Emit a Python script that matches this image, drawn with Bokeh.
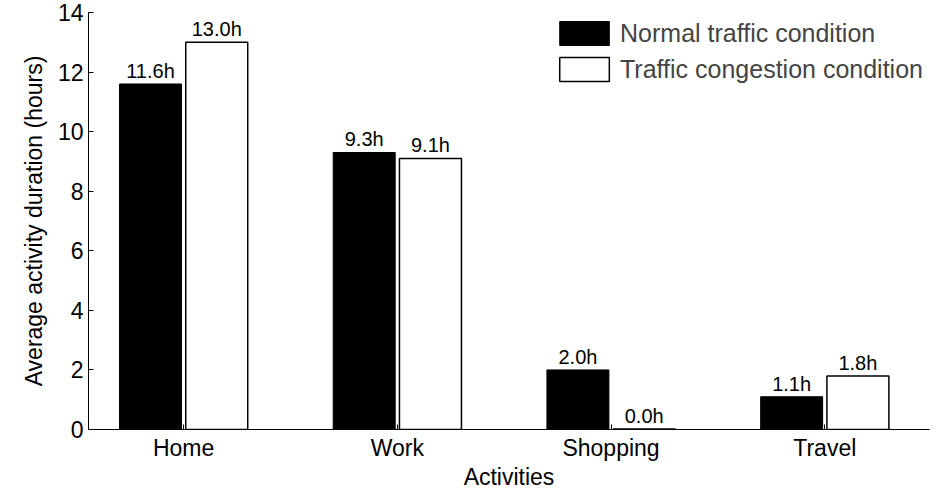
from bokeh.plotting import figure
from bokeh.models import ColumnDataSource, Legend, LegendItem, FixedTicker
from bokeh.core.properties import value
from bokeh.embed import file_html
from bokeh.resources import INLINE

activities = ["Home", "Work", "Shopping", "Travel"]
normal = [11.6, 9.3, 2.0, 1.1]
congestion = [13.0, 9.1, 0.02, 1.8]
normal_labels = ["11.6h", "9.3h", "2.0h", "1.1h"]
congestion_labels = ["13.0h", "9.1h", "0.0h", "1.8h"]

xs = [1, 2, 3, 4]
F = "Liberation Sans"

p = figure(width=933, height=492, x_range=(0.555, 4.49), y_range=(0, 14),
           output_backend="svg", toolbar_location=None,
           min_border_left=88, min_border_top=12, min_border_right=4, min_border_bottom=42)
p.outline_line_color = None
p.grid.grid_line_color = None

src = ColumnDataSource(dict(
    xn=[x - 0.155 for x in xs], xc=[x + 0.155 for x in xs],
    n=normal, c=congestion, nl=normal_labels, cl=congestion_labels))

rn = p.vbar(x="xn", top="n", width=0.29, source=src, fill_color="black", line_color="black")
rc = p.vbar(x="xc", top="c", width=0.29, source=src, fill_color="white", line_color="black", line_width=1.5)
p.text(x="xn", y="n", text="nl", source=src, text_align="center", text_baseline="bottom",
       y_offset=-2, text_font=value(F), text_font_size="20px")
p.text(x="xc", y="c", text="cl", source=src, text_align="center", text_baseline="bottom",
       y_offset=-2, text_font=value(F), text_font_size="20px")

p.xaxis.ticker = FixedTicker(ticks=xs)
p.xaxis.major_label_overrides = {i + 1: a for i, a in enumerate(activities)}
p.xaxis.minor_tick_line_color = None
p.yaxis.minor_tick_line_color = None
p.yaxis.ticker = FixedTicker(ticks=[0, 2, 4, 6, 8, 10, 12, 14])
for ax in (p.xaxis, p.yaxis):
    ax.major_label_text_font = F
    ax.major_label_text_font_size = "23px"
    ax.major_label_text_color = "black"
    ax.axis_label_text_font = F
    ax.axis_label_text_font_size = "23px"
    ax.axis_label_text_font_style = "normal"
    ax.axis_label_text_color = "black"
    ax.axis_line_color = "black"
    ax.major_tick_line_color = "black"
    ax.major_tick_in = 5
    ax.major_tick_out = 0
p.xaxis.axis_label = "Activities"
p.yaxis.axis_label = "Average activity duration (hours)"
p.xaxis.axis_label_standoff = 0
p.yaxis.axis_label_standoff = 8

legend = Legend(items=[LegendItem(label="Normal traffic condition", renderers=[rn]),
                       LegendItem(label="Traffic congestion condition", renderers=[rc])],
                location="top_right", glyph_width=62, glyph_height=30,
                label_text_font=F, label_text_font_size="25px",
                border_line_color=None, background_fill_alpha=0, spacing=6, padding=2, margin=6)
p.add_layout(legend)

open("out.html", "w").write(file_html(p, INLINE))
